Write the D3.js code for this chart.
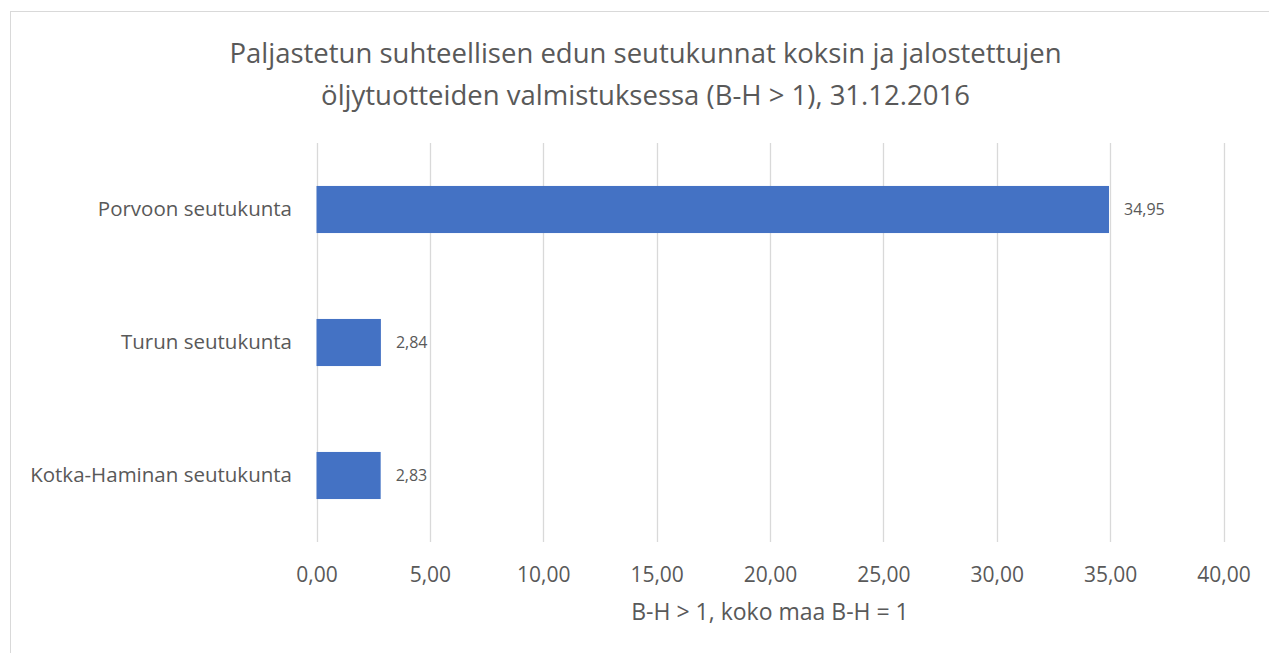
<!DOCTYPE html>
<html>
<head>
<meta charset="utf-8">
<script src="https://cdn.jsdelivr.net/npm/d3@7"></script>
<style>
  body { margin: 0; background: #fff; }
  text { font-family: "Open Sans", sans-serif; fill: #595959; }
</style>
</head>
<body>
<div id="chart-container"></div>
<script>
// data
var categories = ["Porvoon seutukunta", "Turun seutukunta", "Kotka-Haminan seutukunta"];
var values = [34.95, 2.84, 2.83];
var xTicks = [0, 5, 10, 15, 20, 25, 30, 35, 40];
var titleLines = ["Paljastetun suhteellisen edun seutukunnat koksin ja jalostettujen",
                  "öljytuotteiden valmistuksessa (B-H > 1), 31.12.2016"];
var axisTitle = "B-H > 1, koko maa B-H = 1";

var W = 1269, H = 653;
var plotLeft = 316.5, plotRight = 1223.5, plotTop = 143, plotBottom = 542;

var fmt = function(v) { return d3.format(".2f")(v).replace(".", ","); };

var svg = d3.select("#chart-container")
    .append("svg")
    .attr("width", W)
    .attr("height", H);

// chart border (runs off the right and bottom edges in the reference)
svg.append("rect")
    .attr("x", 10.5).attr("y", 11.5)
    .attr("width", W + 40).attr("height", H + 40)
    .attr("fill", "#fff")
    .attr("stroke", "#d9d9d9");

var x = d3.scaleLinear().domain([0, 40]).range([plotLeft, plotRight]);
var y = d3.scaleBand().domain(categories).range([plotTop, plotBottom]).paddingInner(0.646).paddingOuter(0.323);

// title
svg.append("g").selectAll("text")
    .data(titleLines)
  .enter().append("text")
    .attr("x", 645.5)
    .attr("y", function(d, i) { return 63 + i * 42; })
    .attr("text-anchor", "middle")
    .style("font-size", "27.5px")
    .text(function(d) { return d; });

// gridlines
svg.append("g").selectAll("line")
    .data(xTicks)
  .enter().append("line")
    .attr("x1", function(d) { return Math.round(x(d)) + 0.5; })
    .attr("x2", function(d) { return Math.round(x(d)) + 0.5; })
    .attr("y1", plotTop).attr("y2", plotBottom)
    .attr("stroke", "#d9d9d9")
    .attr("stroke-width", 1.3);

// x axis
var xAxis = d3.axisBottom(x).tickValues(xTicks).tickSize(0).tickPadding(0).tickFormat(fmt);
var gx = svg.append("g")
    .attr("transform", "translate(0," + plotBottom + ")")
    .call(xAxis);
gx.select(".domain").remove();
gx.selectAll("text")
    .attr("dy", null)
    .attr("y", 40)
    .style("font-size", "21px")
    .style("font-family", "Open Sans")
    .attr("fill", "#595959");

// y axis
var yAxis = d3.axisLeft(y).tickSize(0).tickPadding(0);
var gy = svg.append("g")
    .attr("transform", "translate(" + 292 + ",0)")
    .call(yAxis);
gy.select(".domain").remove();
gy.selectAll("text")
    .attr("dy", "0.32em")
    .attr("x", 0)
    .style("font-size", "20.5px")
    .style("font-family", "Open Sans")
    .attr("fill", "#595959");

// bars
svg.append("g").selectAll("rect")
    .data(values)
  .enter().append("rect")
    .attr("x", x(0))
    .attr("y", function(d, i) { return y(categories[i]); })
    .attr("width", function(d) { return x(d) - x(0); })
    .attr("height", y.bandwidth())
    .attr("fill", "#4472c4");

// data labels
svg.append("g").selectAll("text")
    .data(values)
  .enter().append("text")
    .attr("x", function(d) { return x(d) + 15; })
    .attr("y", function(d, i) { return y(categories[i]) + y.bandwidth() / 2; })
    .attr("dy", "0.35em")
    .style("font-size", "16px")
    .text(fmt);

// axis title
svg.append("text")
    .attr("x", (plotLeft + plotRight) / 2)
    .attr("y", 620)
    .attr("text-anchor", "middle")
    .style("font-size", "23px")
    .text(axisTitle);
</script>
</body>
</html>
